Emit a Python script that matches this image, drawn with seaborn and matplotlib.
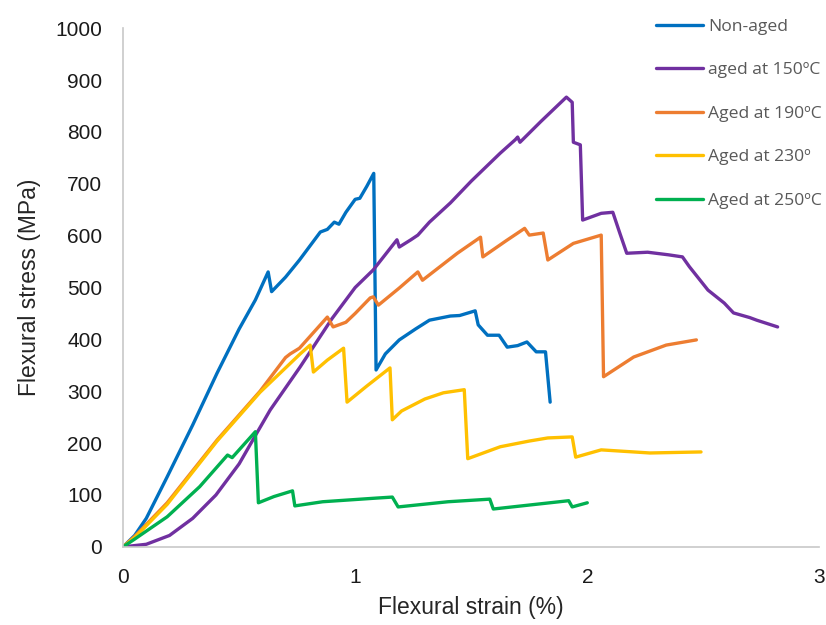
import numpy as np
import pandas as pd
import matplotlib
matplotlib.use('Agg')
import matplotlib.pyplot as plt
import seaborn as sns

non_aged_x = [0, 0.05, 0.1, 0.19, 0.3, 0.405, 0.5, 0.57, 0.625, 0.64, 0.7, 0.76, 0.85, 0.88, 0.91,
              0.93, 0.96, 1.0, 1.02, 1.05, 1.08, 1.09, 1.13, 1.19, 1.26, 1.32, 1.41, 1.45, 1.517, 1.53,
              1.57, 1.62, 1.655, 1.7, 1.74, 1.78, 1.82, 1.84]
non_aged_y = [0, 22, 55, 135, 235, 335, 420, 476, 530, 492, 520, 553, 607, 612, 626,
              622, 645, 670, 672, 695, 720, 341, 372, 399, 420, 437, 445, 446, 455, 428,
              408, 408, 385, 388, 395, 376, 376, 279]

aged150_x = [0, 0.1, 0.2, 0.3, 0.4, 0.5, 0.577, 0.634, 0.763, 0.9, 1.0, 1.078, 1.18, 1.19, 1.24,
             1.27, 1.32, 1.41, 1.5, 1.625, 1.69, 1.70, 1.71, 1.8, 1.91, 1.935, 1.94, 1.97, 1.98,
             2.06, 2.11, 2.14, 2.17, 2.26, 2.35, 2.41, 2.44, 2.52, 2.59, 2.63, 2.7, 2.73, 2.82]
aged150_y = [0, 5, 22, 55, 100, 160, 220, 264, 347, 440, 500, 534, 592, 578, 592,
             601, 626, 663, 705, 759, 785, 790, 780, 820, 867, 857, 780, 775, 630,
             643, 645, 605, 566, 568, 563, 559, 540, 495, 470, 451, 442, 437, 424]

aged190_x = [0, 0.05, 0.19, 0.405, 0.59, 0.70, 0.72, 0.76, 0.88, 0.905, 0.96, 1.0, 1.065, 1.078, 1.10,
             1.19, 1.27, 1.29, 1.44, 1.54, 1.55, 1.65, 1.73, 1.75, 1.81, 1.83, 1.94, 2.06, 2.07,
             2.2, 2.34, 2.47]
aged190_y = [0, 20, 85, 206, 300, 365, 372, 383, 443, 424, 433, 450, 480, 482, 466,
             499, 530, 514, 566, 597, 559, 590, 614, 601, 605, 553, 585, 601, 328,
             366, 389, 399]

aged230_x = [0, 0.05, 0.19, 0.405, 0.59, 0.763, 0.806, 0.82, 0.88, 0.95, 0.965, 1.05, 1.15, 1.16,
             1.2, 1.3, 1.38, 1.47, 1.485, 1.625, 1.75, 1.83, 1.935, 1.95, 2.06, 2.27, 2.49]
aged230_y = [0, 18, 82, 204, 298, 372, 389, 337, 360, 383, 279, 310, 345, 245,
             262, 285, 297, 303, 170, 193, 204, 210, 212, 173, 187, 181, 183]

aged250_x = [0, 0.05, 0.19, 0.33, 0.45, 0.47, 0.57, 0.583, 0.65, 0.73, 0.74, 0.86, 1.09, 1.16,
             1.185, 1.40, 1.58, 1.595, 1.92, 1.935, 2.0]
aged250_y = [0, 15, 58, 116, 177, 172, 222, 85, 97, 108, 79, 87, 94, 96,
             77, 87, 92, 73, 89, 77, 85]

labels = ['Non-aged', 'aged at 150ºC', 'Aged at 190ºC', 'Aged at 230º', 'Aged at 250ºC']
colors = ['#0070C0', '#7030A0', '#ED7D31', '#FFC000', '#00B050']

series = [(non_aged_x, non_aged_y), (aged150_x, aged150_y), (aged190_x, aged190_y),
          (aged230_x, aged230_y), (aged250_x, aged250_y)]
frames = []
for lab, (xs, ys) in zip(labels, series):
    frames.append(pd.DataFrame({'strain': xs, 'stress': ys, 'sample': lab,
                                'order': np.arange(len(xs))}))
df = pd.concat(frames, ignore_index=True)

sns.set_style('white')
plt.rcParams['font.family'] = ['Liberation Sans', 'DejaVu Sans']

fig = plt.figure(figsize=(8.26, 6.25), dpi=100)
ax = fig.add_axes([0.149, 0.125, 0.843, 0.830])

sns.lineplot(data=df, x='strain', y='stress', hue='sample', hue_order=labels,
             palette=colors, sort=False, estimator=None, units='sample',
             linewidth=2.4, ax=ax, legend=False)

ax.set_xlim(0, 3)
ax.set_ylim(0, 1000)
ax.set_xticks([0, 1, 2, 3])
ax.set_yticks(range(0, 1001, 100))
ax.tick_params(axis='both', length=0, labelsize=15, colors='#1a1a1a', pad=15)
ax.set_xlabel('Flexural strain (%)', fontsize=16.5, color='#262626', labelpad=7)
ax.set_ylabel('Flexural stress (MPa)', fontsize=16.5, color='#262626', labelpad=10)

for s in ['top', 'right']:
    ax.spines[s].set_visible(False)
for s in ['left', 'bottom']:
    ax.spines[s].set_color('#c8c8c8')
    ax.spines[s].set_linewidth(1.2)

handles = [plt.Line2D([], [], color=c, lw=2.4) for c in colors]
leg = fig.legend(handles, labels, loc='upper left', bbox_to_anchor=(0.775, 0.995),
                 frameon=False, handlelength=2.7, handletextpad=0.3, labelspacing=1.55,
                 prop={'family': 'Open Sans', 'size': 12.6})
for t in leg.get_texts():
    t.set_color('#595959')

fig.savefig('out.png', dpi=100)
